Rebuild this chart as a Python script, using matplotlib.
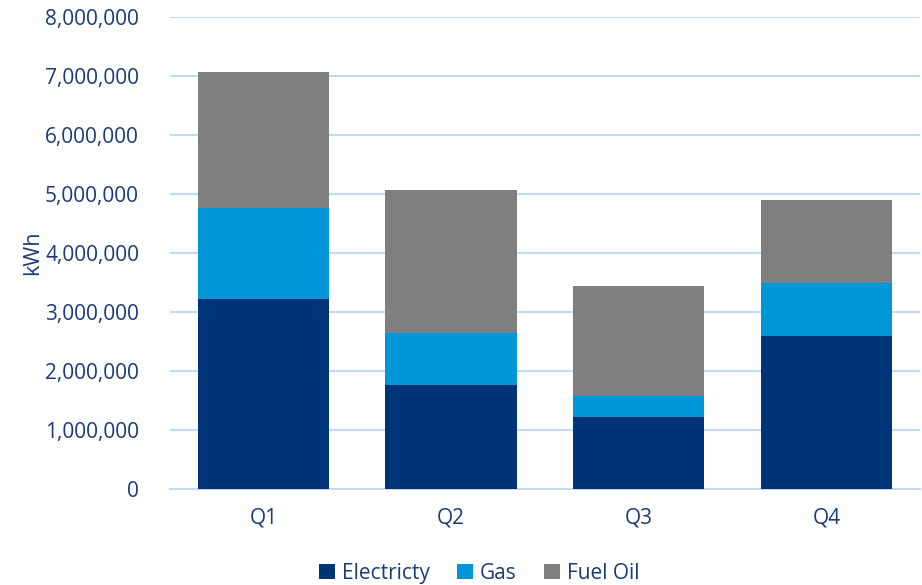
import matplotlib.pyplot as plt
import numpy as np
from matplotlib.ticker import FuncFormatter

plt.rcParams['font.family'] = ['Open Sans', 'DejaVu Sans']

quarters = ["Q1", "Q2", "Q3", "Q4"]
electricity = [3215000, 1760000, 1225000, 2600000]
gas = [1555000, 880000, 350000, 900000]
fuel_oil = [2300000, 2420000, 1865000, 1390000]

text_col = "#1A3A78"
grid_col = "#C3DAF6"
colors = ["#003478", "#0096D8", "#7F7F7F"]

fig = plt.figure(figsize=(9.22, 5.85), dpi=100)
ax = fig.add_axes([0.184, 0.164, 0.814, 0.807])

x = np.arange(len(quarters))
elec = np.array(electricity)
g = np.array(gas)
fo = np.array(fuel_oil)
ax.bar(x, elec, 0.7, color=colors[0], label="Electricty", zorder=3)
ax.bar(x, g, 0.7, bottom=elec, color=colors[1], label="Gas", zorder=3)
ax.bar(x, fo, 0.7, bottom=elec + g, color=colors[2], label="Fuel Oil", zorder=3)

ax.set_xlim(-0.5, 3.5)
ax.set_ylim(0, 8000000)
ax.set_yticks(range(0, 8000001, 1000000))
ax.yaxis.set_major_formatter(FuncFormatter(lambda v, p: f"{int(v):,}"))
ax.set_xticks(x)
ax.set_xticklabels(quarters)
ax.grid(axis="y", color=grid_col, linewidth=1.5, zorder=0)
for s in ["top", "right", "left"]:
    ax.spines[s].set_visible(False)
ax.spines["bottom"].set_color(grid_col)
ax.spines["bottom"].set_linewidth(1.5)
ax.tick_params(axis="both", length=0, labelsize=15, colors=text_col)
ax.tick_params(axis="y", pad=22)
ax.tick_params(axis="x", pad=13)
ax.set_ylabel("kWh", fontsize=15.5, color=text_col)
ax.yaxis.set_label_coords(-0.168, 0.5)

leg = fig.legend(loc="lower center", ncol=3, frameon=False, fontsize=15,
                 bbox_to_anchor=(0.52, -0.03), handlelength=0.75, handleheight=0.75,
                 columnspacing=1.3, handletextpad=0.35)
for t in leg.get_texts():
    t.set_color(text_col)

fig.savefig("out.png", dpi=100)
